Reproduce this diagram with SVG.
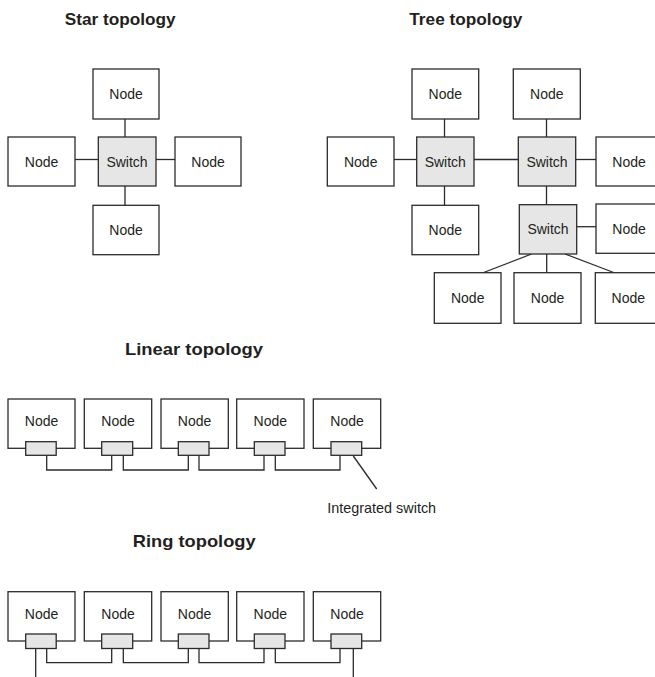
<svg xmlns="http://www.w3.org/2000/svg" width="655" height="677" viewBox="0 0 655 677">
  <style>
    .node { fill: #ffffff; stroke: #2b2b2b; stroke-width: 1.3; }
    .sw { fill: #e6e6e6; stroke: #2b2b2b; stroke-width: 1.3; }
    .lbl { font-family: "Liberation Sans", Arial, sans-serif; font-size: 14px; fill: #231f20; text-anchor: middle; }
    .title { font-family: "Liberation Sans", Arial, sans-serif; font-size: 17px; font-weight: bold; fill: #231f20; }
    .note { font-family: "Liberation Sans", Arial, sans-serif; font-size: 14.4px; fill: #231f20; }
    .wire { fill: none; stroke: #2b2b2b; stroke-width: 1.3; }
  </style>
  <rect width="655" height="677" fill="#ffffff"/>

  <!-- Titles -->
  <text class="title" x="64.7" y="25" textLength="111" lengthAdjust="spacingAndGlyphs">Star topology</text>
  <text class="title" x="409.3" y="25" textLength="113" lengthAdjust="spacingAndGlyphs">Tree topology</text>
  <text class="title" x="125" y="355" textLength="138" lengthAdjust="spacingAndGlyphs">Linear topology</text>
  <text class="title" x="132.7" y="546.5" textLength="123" lengthAdjust="spacingAndGlyphs">Ring topology</text>

  <!-- Connectors -->
  <g id="connectors" class="wire">
    <!-- star -->
    <line x1="125" y1="119" x2="125" y2="137"/>
    <line x1="125" y1="186" x2="125" y2="205"/>
    <line x1="75" y1="159.5" x2="98" y2="159.5"/>
    <line x1="156" y1="159.5" x2="175" y2="159.5"/>
    <!-- tree -->
    <line x1="444.5" y1="119" x2="444.5" y2="137"/>
    <line x1="444.5" y1="186" x2="444.5" y2="205"/>
    <line x1="394" y1="159.5" x2="417" y2="159.5"/>
    <line x1="474" y1="159.5" x2="518" y2="159.5"/>
    <line x1="576" y1="159.5" x2="596" y2="159.5"/>
    <line x1="546.5" y1="119" x2="546.5" y2="137"/>
    <line x1="546.5" y1="186" x2="546.5" y2="205"/>
    <line x1="577" y1="226.7" x2="596" y2="226.7"/>
    <line x1="531.7" y1="254" x2="482.3" y2="273"/>
    <line x1="546.7" y1="254" x2="546.7" y2="273"/>
    <line x1="565" y1="254" x2="615" y2="273"/>
    <!-- linear -->
    <polyline points="46.7,455 46.7,470 111.7,470 111.7,455"/>
    <polyline points="123.3,455 123.3,470 188.3,470 188.3,455"/>
    <polyline points="199,455 199,470 264,470 264,455"/>
    <polyline points="275.3,455 275.3,470 340,470 340,455"/>
    <line x1="353.3" y1="456" x2="376.7" y2="489"/>
    <!-- ring -->
    <line x1="35.7" y1="648.5" x2="35.7" y2="677"/>
    <polyline points="46.7,648.5 46.7,662.7 111.7,662.7 111.7,648.5"/>
    <polyline points="123.3,648.5 123.3,662.7 188.3,662.7 188.3,648.5"/>
    <polyline points="199,648.5 199,662.7 264,662.7 264,648.5"/>
    <polyline points="275.3,648.5 275.3,662.7 340,662.7 340,648.5"/>
    <line x1="353.3" y1="648.5" x2="353.3" y2="677"/>
  </g>

  <!-- Star topology -->
  <g id="star-node-top"><rect class="node" x="93" y="69" width="66" height="50"/><text class="lbl" x="126" y="99">Node</text></g>
  <g id="star-node-left"><rect class="node" x="8" y="137" width="67" height="49"/><text class="lbl" x="41.5" y="166.5">Node</text></g>
  <g id="star-switch"><rect class="sw" x="98.3" y="137" width="57.7" height="49"/><text class="lbl" x="127" y="166.5">Switch</text></g>
  <g id="star-node-right"><rect class="node" x="175" y="137" width="66" height="49"/><text class="lbl" x="208" y="166.5">Node</text></g>
  <g id="star-node-bottom"><rect class="node" x="93" y="205.3" width="66" height="49.4"/><text class="lbl" x="126" y="235">Node</text></g>

  <!-- Tree topology -->
  <g id="tree-node-top-a"><rect class="node" x="412" y="69" width="66.7" height="50"/><text class="lbl" x="445.3" y="99">Node</text></g>
  <g id="tree-node-top-b"><rect class="node" x="513.3" y="69" width="67" height="50"/><text class="lbl" x="546.8" y="99">Node</text></g>
  <g id="tree-node-left"><rect class="node" x="327.3" y="137" width="66.7" height="49"/><text class="lbl" x="360.7" y="166.5">Node</text></g>
  <g id="tree-switch-a"><rect class="sw" x="416.7" y="137" width="57.3" height="49"/><text class="lbl" x="445.3" y="166.5">Switch</text></g>
  <g id="tree-switch-b"><rect class="sw" x="518.3" y="137" width="57.4" height="49"/><text class="lbl" x="547" y="166.5">Switch</text></g>
  <g id="tree-node-right-a"><rect class="node" x="596" y="137" width="66" height="49"/><text class="lbl" x="629" y="166.5">Node</text></g>
  <g id="tree-node-below-a"><rect class="node" x="412" y="205.3" width="66.7" height="49.4"/><text class="lbl" x="445.3" y="235">Node</text></g>
  <g id="tree-switch-c"><rect class="sw" x="519.3" y="204.7" width="57.4" height="49.3"/><text class="lbl" x="548" y="234.3">Switch</text></g>
  <g id="tree-node-right-b"><rect class="node" x="596" y="204" width="66" height="49.3"/><text class="lbl" x="629" y="233.6">Node</text></g>
  <g id="tree-node-bottom-a"><rect class="node" x="434.3" y="272.7" width="66.7" height="50.6"/><text class="lbl" x="467.7" y="303">Node</text></g>
  <g id="tree-node-bottom-b"><rect class="node" x="514" y="272.7" width="67" height="50.6"/><text class="lbl" x="547.5" y="303">Node</text></g>
  <g id="tree-node-bottom-c"><rect class="node" x="595.3" y="272.7" width="66" height="50.6"/><text class="lbl" x="628.3" y="303">Node</text></g>

  <!-- Linear topology -->
  <g id="lin-node-1"><rect class="node" x="8" y="399" width="67" height="49.3"/><rect class="sw" x="25.7" y="441.7" width="30.5" height="13.6"/><text class="lbl" x="41.5" y="426">Node</text></g>
  <g id="lin-node-2"><rect class="node" x="84.3" y="399" width="67.4" height="49.3"/><rect class="sw" x="101.7" y="441.7" width="31" height="13.6"/><text class="lbl" x="118" y="426">Node</text></g>
  <g id="lin-node-3"><rect class="node" x="161" y="399" width="67.3" height="49.3"/><rect class="sw" x="178.3" y="441.7" width="30.7" height="13.6"/><text class="lbl" x="194.6" y="426">Node</text></g>
  <g id="lin-node-4"><rect class="node" x="236.7" y="399" width="67.3" height="49.3"/><rect class="sw" x="254.3" y="441.7" width="30.7" height="13.6"/><text class="lbl" x="270.3" y="426">Node</text></g>
  <g id="lin-node-5"><rect class="node" x="313.3" y="399" width="67.4" height="49.3"/><rect class="sw" x="331" y="441.7" width="30.7" height="13.6"/><text class="lbl" x="347" y="426">Node</text></g>
  <text class="note" x="327.3" y="513.3">Integrated switch</text>

  <!-- Ring topology -->
  <g id="ring-node-1"><rect class="node" x="8" y="591.7" width="67" height="49.3"/><rect class="sw" x="25.7" y="634" width="30.5" height="14.5"/><text class="lbl" x="41.5" y="619">Node</text></g>
  <g id="ring-node-2"><rect class="node" x="84.3" y="591.7" width="67.4" height="49.3"/><rect class="sw" x="101.7" y="634" width="31" height="14.5"/><text class="lbl" x="118" y="619">Node</text></g>
  <g id="ring-node-3"><rect class="node" x="161" y="591.7" width="67.3" height="49.3"/><rect class="sw" x="178.3" y="634" width="30.7" height="14.5"/><text class="lbl" x="194.6" y="619">Node</text></g>
  <g id="ring-node-4"><rect class="node" x="236.7" y="591.7" width="67.3" height="49.3"/><rect class="sw" x="254.3" y="634" width="30.7" height="14.5"/><text class="lbl" x="270.3" y="619">Node</text></g>
  <g id="ring-node-5"><rect class="node" x="313.3" y="591.7" width="67.4" height="49.3"/><rect class="sw" x="331" y="634" width="30.7" height="14.5"/><text class="lbl" x="347" y="619">Node</text></g>
</svg>
